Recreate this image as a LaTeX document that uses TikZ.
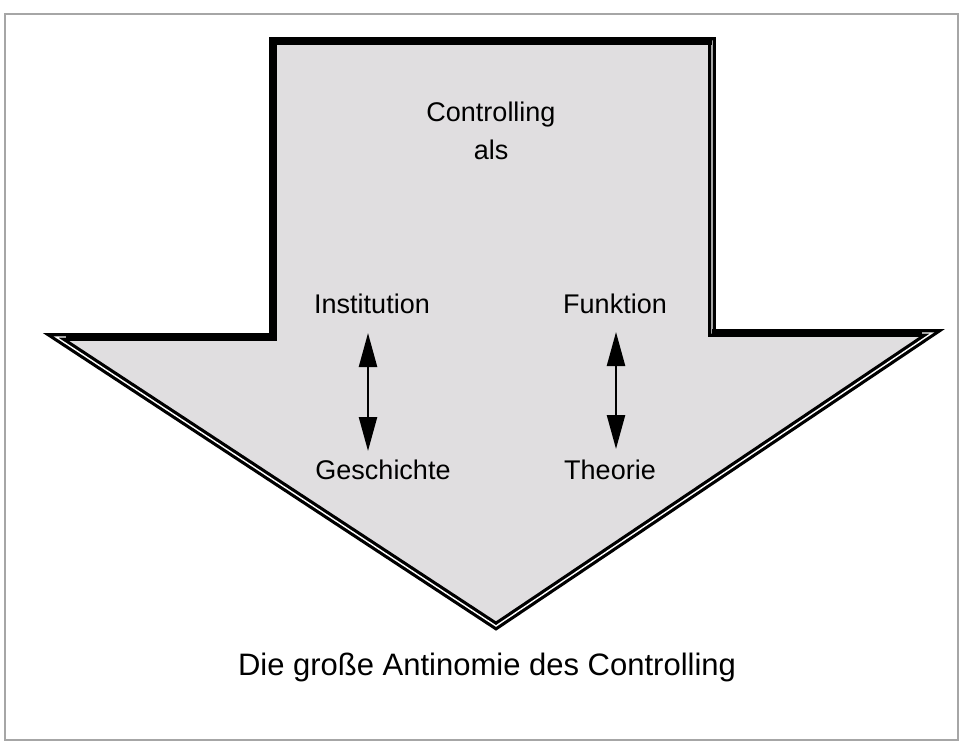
\documentclass[tikz,border=0pt]{standalone}
\usepackage{fontspec}
\setmainfont{Liberation Sans}
\usetikzlibrary{arrows.meta}
\definecolor{arrowfill}{RGB}{224,222,224}
\begin{document}
\begin{tikzpicture}[x=1pt,y=-1pt,
  lbl/.style={font=\fontsize{27}{30}\selectfont, inner sep=0pt},
  biarrow/.style={line width=2.4pt, {Triangle[length=34pt,width=18pt]}-{Triangle[length=34pt,width=18pt]}},
  bigarrow/.style={draw=black, fill=arrowfill, line width=3.2pt, double=white, double distance=1.4pt, line join=miter, miter limit=20},
  solidedge/.style={draw=black, line width=7.8pt, line join=miter}]
\useasboundingbox (0,0) rectangle (960,742);
\fill[white] (0,0) rectangle (960,742);
\draw[gray!70, line width=2pt] (5,14) rectangle (958,740);
\coordinate (s1) at (273,41);
\coordinate (s2) at (712,41);
\coordinate (s3) at (712,333);
\coordinate (w2) at (932,333);
\coordinate (tip) at (496,626);
\coordinate (w1) at (56,337);
\coordinate (s4) at (273,337);
\coordinate (w1e) at (66,337);
\coordinate (w2e) at (922,333);
\draw[bigarrow] (s4) -- (s1) -- (s2) -- (s3) -- (w2) -- (tip) -- (w1) -- cycle;
\draw[solidedge] (w1e) -- (s4) -- (s1) -- (s2);
\draw[solidedge] (s3) -- (w2e);
\node[lbl] (ctrl) at (491,115) {Controlling};
\node[lbl] (als) at (491,150) {als};
\node[lbl] (inst) at (372,304) {Institution};
\node[lbl] (funk) at (615,304) {Funktion};
\node[lbl] (gesch) at (383,470) {Geschichte};
\node[lbl] (theo) at (610,470) {Theorie};
\coordinate (a1t) at (368,333);
\coordinate (a1b) at (368,451);
\coordinate (a2t) at (616,332);
\coordinate (a2b) at (616,449);
\draw[biarrow] (a1t) -- (a1b);
\draw[biarrow] (a2t) -- (a2b);
\node[font=\fontsize{31}{34}\selectfont, inner sep=0pt] (cap) at (487,667) {Die große Antinomie des Controlling};
\end{tikzpicture}
\end{document}
